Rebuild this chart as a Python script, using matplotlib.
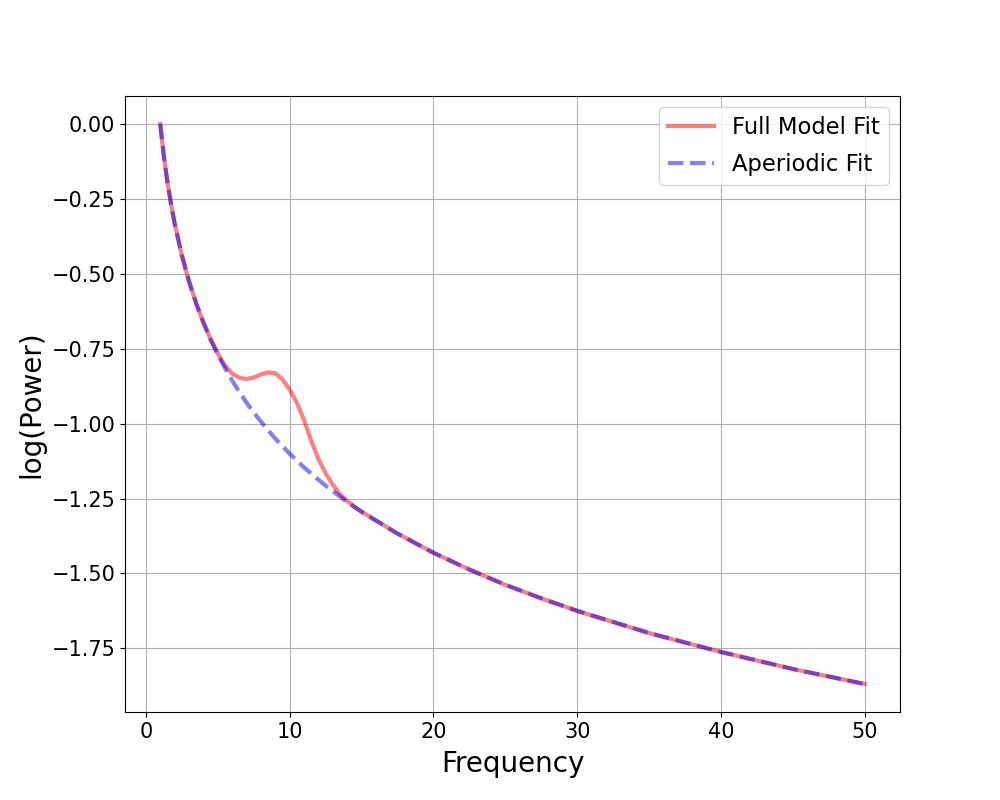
import matplotlib
matplotlib.use("Agg")
import matplotlib.pyplot as plt

# frequencies (Hz) and log power
freqs = [1, 1.25, 1.5, 1.75, 2, 2.5, 3, 3.5, 4, 4.5, 5, 5.5, 6, 6.5, 7, 7.5,
         8, 8.5, 9, 9.5, 10, 10.5, 11, 11.5, 12, 12.5, 13, 13.5, 14, 14.5,
         15, 17.5, 20, 22.5, 25, 27.5, 30, 35, 40, 45, 50]

aperiodic = [0.0, -0.107, -0.194, -0.267, -0.331, -0.438, -0.525, -0.599,
             -0.662, -0.719, -0.769, -0.814, -0.856, -0.894, -0.930, -0.963,
             -0.993, -1.022, -1.050, -1.075, -1.100, -1.123, -1.146, -1.167,
             -1.187, -1.207, -1.225, -1.243, -1.261, -1.278, -1.294, -1.367,
             -1.431, -1.487, -1.538, -1.583, -1.625, -1.699, -1.762, -1.819,
             -1.869]

full_model = [0.0, -0.107, -0.194, -0.267, -0.331, -0.438, -0.525, -0.599,
              -0.662, -0.718, -0.766, -0.806, -0.833, -0.847, -0.851, -0.846,
              -0.836, -0.829, -0.832, -0.852, -0.886, -0.930, -0.988, -1.057,
              -1.118, -1.166, -1.204, -1.235, -1.258, -1.277, -1.294, -1.367,
              -1.431, -1.487, -1.538, -1.583, -1.625, -1.699, -1.762, -1.819,
              -1.869]

fig, ax = plt.subplots(figsize=(10, 8), dpi=100)
ax.plot(freqs, full_model, color='red', alpha=0.5, lw=3, label='Full Model Fit')
ax.plot(freqs, aperiodic, color='blue', alpha=0.5, lw=3, ls='--', label='Aperiodic Fit')
ax.grid(True)
ax.set_xlabel('Frequency', fontsize=20, labelpad=6)
ax.set_ylabel('log(Power)', fontsize=20)
ax.tick_params(labelsize=15)
ax.legend(fontsize=16.3, loc='upper right', labelspacing=0.6)
fig.savefig('out.png')
